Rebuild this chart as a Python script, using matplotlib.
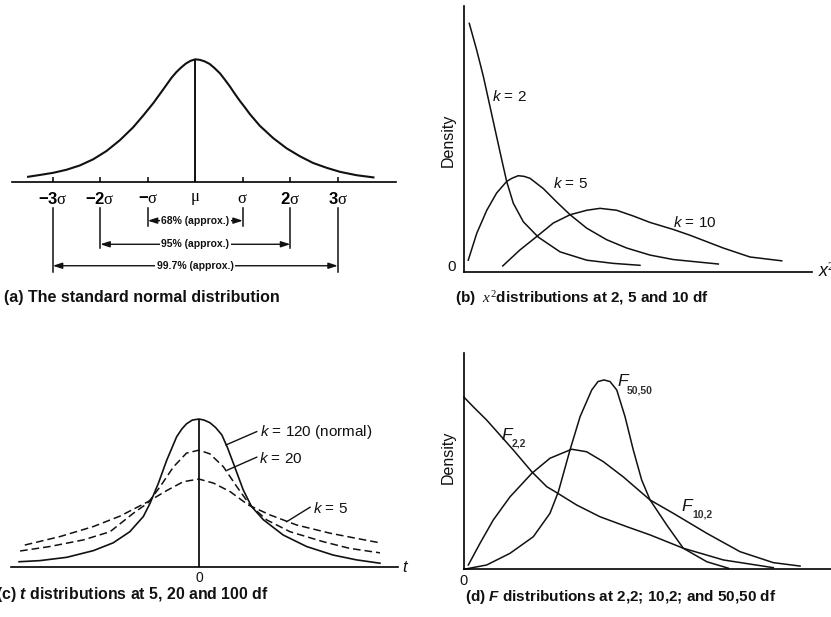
import matplotlib
matplotlib.use("Agg")
import matplotlib.pyplot as plt

plt.rcParams['font.family'] = ['Liberation Sans', 'DejaVu Sans']
plt.rcParams['mathtext.fontset'] = 'custom'
plt.rcParams['mathtext.rm'] = 'Liberation Serif'
plt.rcParams['mathtext.it'] = 'Liberation Serif:italic'
plt.rcParams['mathtext.sf'] = 'Liberation Sans:italic'
plt.rcParams['mathtext.bf'] = 'Liberation Sans:bold'
plt.rcParams['mathtext.bfit'] = 'Liberation Sans:italic:bold'

# (a) standard normal curve, x in sigma units
norm_x = [-3.52, -3.27, -2.99, -2.71, -2.43, -2.15, -1.87, -1.59, -1.31, -1.10,
          -0.88, -0.67, -0.50, -0.40, -0.30, -0.20, -0.10, 0.0, 0.10, 0.20, 0.30,
          0.40, 0.52, 0.62, 0.73, 0.83, 0.94, 1.05, 1.15, 1.36, 1.64, 1.92, 2.20,
          2.48, 2.77, 3.05, 3.40, 3.75]
norm_y = [0.017, 0.023, 0.030, 0.040, 0.054, 0.074, 0.101, 0.136, 0.178, 0.216,
          0.258, 0.303, 0.340, 0.358, 0.373, 0.386, 0.395, 0.400, 0.398, 0.393, 0.385,
          0.372, 0.354, 0.334, 0.311, 0.288, 0.264, 0.242, 0.221, 0.183, 0.143, 0.110, 0.084,
          0.062, 0.046, 0.033, 0.022, 0.015]
sigma_ticks = [-3, -2, -1, 0, 1, 2, 3]
sigma_labels = [r'−3$\mathrm{\sigma}$', r'−2$\mathrm{\sigma}$', r'−$\mathrm{\sigma}$',
                r'$\mathrm{\mu}$', r'$\mathrm{\sigma}$', r'2$\mathrm{\sigma}$', r'3$\mathrm{\sigma}$']
coverage_sigma = [1, 2, 3]
coverage_labels = ['68% (approx.)', '95% (approx.)', '99.7% (approx.)']

# (b) chi-square curves
chi_k2_x = [0.31, 0.75, 1.14, 1.53, 1.92, 2.22, 2.51, 2.90, 3.49, 4.37, 5.65, 7.22, 8.78, 10.35]
chi_k2_y = [0.388, 0.346, 0.305, 0.258, 0.211, 0.175, 0.141, 0.107, 0.078, 0.054, 0.031, 0.018, 0.013, 0.010]
chi_k5_x = [0.25, 0.75, 1.34, 1.92, 2.51, 2.82, 3.19, 3.53, 3.88, 4.66, 5.45, 6.24, 7.22, 8.39, 9.57, 10.94, 12.31, 14.96]
chi_k5_y = [0.018, 0.060, 0.096, 0.123, 0.141, 0.146, 0.150, 0.149, 0.146, 0.130, 0.109, 0.089, 0.068, 0.050, 0.037, 0.026, 0.019, 0.012]
chi_k10_x = [2.28, 3.29, 4.28, 5.25, 6.24, 7.22, 8.00, 8.98, 9.96, 10.94, 12.31, 13.29, 15.25, 16.82, 18.69]
chi_k10_y = [0.009, 0.034, 0.055, 0.076, 0.089, 0.096, 0.099, 0.096, 0.087, 0.077, 0.066, 0.057, 0.037, 0.023, 0.017]
chi_labels = [r'$\mathsf{k}$ = 2', r'$\mathsf{k}$ = 5', r'$\mathsf{k}$ = 10']

# (c) t curves
t_norm_x = [-3.46, -3.06, -2.54, -2.03, -1.65, -1.33, -1.07, -0.94, -0.78, -0.62, -0.43, -0.33,
            -0.24, -0.13, 0.0, 0.10, 0.21, 0.32, 0.44, 0.55, 0.66, 0.85, 1.01, 1.24, 1.62, 2.07,
            2.58, 3.03, 3.48]
t_norm_y = [0.015, 0.018, 0.027, 0.045, 0.066, 0.096, 0.137, 0.173, 0.227, 0.289, 0.352, 0.373,
            0.387, 0.397, 0.400, 0.397, 0.390, 0.377, 0.357, 0.322, 0.281, 0.209, 0.164, 0.128, 0.087, 0.056,
            0.033, 0.020, 0.011]
t_k20_x = [-3.44, -2.87, -2.22, -1.71, -1.26, -0.98, -0.75, -0.49, -0.24, 0.0,
           0.21, 0.47, 0.73, 0.98, 1.30, 1.75, 2.39, 2.90, 3.48]
t_k20_y = [0.044, 0.056, 0.074, 0.096, 0.146, 0.174, 0.217, 0.271, 0.308, 0.316,
           0.306, 0.271, 0.217, 0.168, 0.128, 0.096, 0.069, 0.051, 0.039]
t_k5_x = [-3.35, -2.67, -2.03, -1.52, -0.98, -0.62, -0.30, 0.0, 0.28, 0.60, 0.95, 1.37, 1.88, 2.52, 3.03, 3.48]
t_k5_y = [0.060, 0.083, 0.110, 0.138, 0.177, 0.207, 0.231, 0.238, 0.227, 0.204, 0.168, 0.141, 0.114, 0.092, 0.078, 0.066]
t_labels = [r'$\mathsf{k}$ = 120 (normal)', r'$\mathsf{k}$ = 20', r'$\mathsf{k}$ = 5']

# (d) F curves
f22_x = [0.0, 0.066, 0.162, 0.257, 0.352, 0.484, 0.591, 0.662, 0.805, 0.971, 1.162, 1.329, 1.566, 1.852, 2.209]
f22_y = [0.956, 0.903, 0.829, 0.746, 0.663, 0.542, 0.459, 0.426, 0.357, 0.292, 0.237, 0.191, 0.117, 0.052, 0.009]
f102_x = [0.031, 0.114, 0.209, 0.329, 0.484, 0.614, 0.769, 0.876, 0.995, 1.138, 1.329, 1.495, 1.734, 1.971, 2.209, 2.400]
f102_y = [0.024, 0.144, 0.274, 0.403, 0.533, 0.617, 0.667, 0.653, 0.598, 0.513, 0.385, 0.311, 0.200, 0.098, 0.037, 0.018]
f5050_x = [0.0, 0.162, 0.329, 0.495, 0.614, 0.674, 0.757, 0.829, 0.912, 0.957, 1.0, 1.043, 1.091,
           1.150, 1.209, 1.269, 1.329, 1.448, 1.566, 1.734, 1.888]
f5050_y = [0.0, 0.024, 0.089, 0.181, 0.311, 0.431, 0.663, 0.848, 0.996, 1.043, 1.052, 1.043, 0.996,
           0.848, 0.663, 0.496, 0.385, 0.246, 0.117, 0.042, 0.006]
f_subs = ['50,50', '2,2', '10,2']

W, H = 831, 617


def box(x0, y0, x1, y1):
    # pixel box (top-left origin) -> figure fraction
    return [x0 / W, 1 - y1 / H, (x1 - x0) / W, (y1 - y0) / H]


def bare(ax, spines):
    for s in ['left', 'right', 'top', 'bottom']:
        ax.spines[s].set_visible(s in spines)
        ax.spines[s].set_linewidth(1.2)
    ax.set_xticks([])
    ax.set_yticks([])
    ax.patch.set_alpha(0)


fig = plt.figure(figsize=(8.31, 6.17), dpi=100)
ink = '#111111'

# ---- (a)
ax = fig.add_axes(box(12, 40, 396, 182))
bare(ax, ['bottom'])
ax.set_xlim(-3.859, 4.225)
ax.set_ylim(0, 0.4629)
ax.plot(norm_x, norm_y, color=ink, lw=1.5, clip_on=False, solid_joinstyle='round')
ax.vlines(0, 0, max(norm_y), color=ink, lw=1.4)
ax.set_xticks(sigma_ticks)
ax.set_xticklabels(sigma_labels, fontsize=12, fontweight='bold')
ax.tick_params(axis='x', direction='in', length=3.8, width=1.1, pad=6.5)

row_y = [-0.126, -0.203, -0.273]
drop_bottom = [-0.1425, -0.2161, -0.2924]
for s, lab, ry, yb in zip(coverage_sigma, coverage_labels, row_y, drop_bottom):
    for sx in (-s, s):
        ax.plot([sx, sx], [-0.0857, yb], color=ink, lw=1.1, clip_on=False)
    ax.annotate('', xy=(s, ry), xytext=(-s, ry), annotation_clip=False,
                arrowprops=dict(arrowstyle='<|-|>,head_length=0.55,head_width=0.18',
                                color=ink, lw=1.0, shrinkA=0, shrinkB=0))
    ax.text(0, ry, lab, ha='center', va='center', fontsize=7.5, fontweight='bold',
            color=ink, bbox=dict(fc='white', ec='none', pad=1.2), zorder=5)

# ---- (b)
ax = fig.add_axes(box(464, 6, 812, 271.7))
bare(ax, ['left', 'bottom'])
ax.set_xlim(0, 20.47)
ax.set_ylim(0, 0.4152)
for xs, ys in [(chi_k2_x, chi_k2_y), (chi_k5_x, chi_k5_y), (chi_k10_x, chi_k10_y)]:
    ax.plot(xs, ys, color=ink, lw=1.1, clip_on=False, solid_joinstyle='round')
for (lx, ly), lab in zip([(1.63, 0.273), (5.25, 0.138), (12.31, 0.0766)], chi_labels):
    ax.text(lx, ly, lab, fontsize=11, va='center', ha='left', color=ink)
ax.text(-0.72, 0.0078, '0', fontsize=11, ha='center', va='center', color=ink)
ax.text(-0.94, 0.206, 'Density', fontsize=11.5, rotation=90, ha='center', va='center', color=ink)
ax.text(20.82, 0.0, r'$\mathsf{x}^2$', fontsize=13, ha='left', va='center', color=ink, clip_on=False)

# ---- (c)
ax = fig.add_axes(box(11, 380, 398, 567.3))
bare(ax, ['bottom'])
ax.set_xlim(-3.615, 3.827)
ax.set_ylim(0, 0.5052)
ax.plot(t_norm_x, t_norm_y, color=ink, lw=1.2, clip_on=False, solid_joinstyle='round')
ax.plot(t_k20_x, t_k20_y, color=ink, lw=1.1, ls=(0, (5, 2.6)), clip_on=False)
ax.plot(t_k5_x, t_k5_y, color=ink, lw=1.1, ls=(0, (5, 2.6)), clip_on=False)
ax.vlines(0, 0, max(t_norm_y), color=ink, lw=1.3)
leaders = [((0.519, 0.330), (1.11, 0.366)), ((0.544, 0.262), (1.11, 0.297)), ((1.687, 0.123), (2.135, 0.162))]
label_pos = [(1.173, 0.364), (1.154, 0.294), (2.198, 0.159)]
for (p0, p1), (lx, ly), lab in zip(leaders, label_pos, t_labels):
    ax.plot([p0[0], p1[0]], [p0[1], p1[1]], color=ink, lw=1.0)
    ax.text(lx, ly, lab, fontsize=11, va='center', ha='left', color=ink)
ax.text(0, -0.030, '0', fontsize=10, ha='center', va='center', color=ink)
ax.text(3.96, 0.0, 't', fontsize=12, style='italic', ha='center', va='center', color=ink)

# ---- (d)
ax = fig.add_axes(box(464, 353.3, 831, 569.3))
bare(ax, ['left', 'bottom'])
ax.set_xlim(0, 2.621)
ax.set_ylim(0, 1.2)
for xs, ys in [(f22_x, f22_y), (f102_x, f102_y), (f5050_x, f5050_y)]:
    ax.plot(xs, ys, color=ink, lw=1.1, clip_on=False, solid_joinstyle='round')
f_pos = [(1.093, 1.046, 1.165, 0.996), (0.269, 0.741, 0.342, 0.700), (1.555, 0.348, 1.628, 0.307)]
for (fx, fy, sx, sy), sub in zip(f_pos, f_subs):
    ax.text(fx, fy, 'F', fontsize=12.5, style='italic', ha='left', va='center', color=ink)
    ax.text(sx, sy, sub, fontsize=7.5, fontweight='bold', ha='left', va='center', color='#333333')
ax.text(0, -0.063, '0', fontsize=10.5, ha='center', va='center', color=ink)
ax.text(-0.114, 0.62, 'Density', fontsize=11.5, rotation=90, ha='center', va='center', color=ink)

# ---- captions
cap = dict(fontweight='bold', va='center', color=ink)
fig.text(4 / W, 1 - 297.7 / H, '(a) The standard normal distribution', fontsize=11.5, **cap)
fig.text(455 / W, 1 - 299 / H, r'(b)  $x^2$distributions at 2, 5 and 10 df', fontsize=11, **cap)
fig.text(-4.5 / W, 1 - 594.5 / H, r'(c) $\mathbfit{t}$ distributions at 5, 20 and 100 df', fontsize=11.4, **cap)
fig.text(465 / W, 1 - 596.7 / H, r'(d) $\mathbfit{F}$ distributions at 2,2; 10,2; and 50,50 df', fontsize=11, **cap)

fig.savefig('out.png', dpi=100, facecolor='white')
